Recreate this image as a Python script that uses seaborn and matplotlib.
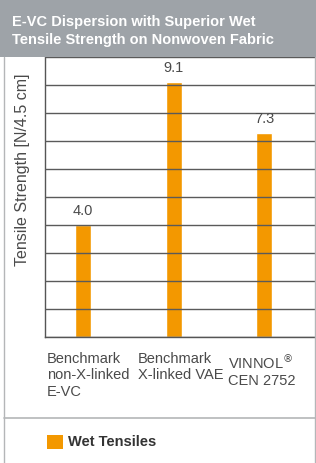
import matplotlib
matplotlib.use('Agg')
import matplotlib.pyplot as plt
import matplotlib.transforms as mtransforms
from matplotlib.patches import Rectangle, Patch
from matplotlib.lines import Line2D
import pandas as pd
import seaborn as sns

# datos
categorias = ['Benchmark\nnon-X-linked\nE-VC', 'Benchmark\nX-linked VAE', 'VINNOL$^{®}$\nCEN 2752']
valores = [4.0, 9.1, 7.3]
serie = 'Wet Tensiles'
titulo = 'E-VC Dispersion with Superior Wet\nTensile Strength on Nonwoven Fabric'
etiqueta_y = 'Tensile Strength [N/4.5 cm]'

naranja = '#f39800'
gris_banner = '#9ea3a8'
gris_texto = '#4a4a4a'
gris_borde = '#b4b6b8'

sns.set_style('white')
plt.rcParams['font.family'] = ['Liberation Sans', 'DejaVu Sans']

df = pd.DataFrame({'cat': [0, 1, 2], 'valor': valores, 'serie': serie})

W, H = 316, 463
fig = plt.figure(figsize=(W / 100, H / 100), dpi=100)
ax = fig.add_axes([45 / W, (H - 337) / H, (315 - 45) / W, (337 - 57) / H])

sns.barplot(data=df, x='cat', y='valor', hue='serie', palette=[naranja],
            width=0.177, ax=ax, legend=False, saturation=1)

ax.set_ylim(0, 10)
ax.set_xlim(-0.42, 2.56)
ax.set_yticks(range(0, 11))
ax.set_yticklabels([])
ax.tick_params(axis='both', length=0)
ax.grid(axis='y', color='#5a5a5a', linewidth=1)
ax.set_axisbelow(False)
for s in ['top', 'right']:
    ax.spines[s].set_visible(False)
for s in ['left', 'bottom']:
    ax.spines[s].set_color('#555555')
    ax.spines[s].set_linewidth(1)
ax.set_xlabel('')
ax.set_ylabel('')

# etiquetas de valor
for cont in ax.containers:
    ax.bar_label(cont, fmt='%.1f', padding=5, fontsize=10.5, color=gris_texto)

# etiquetas del eje x alineadas a la izquierda
ax.set_xticks([0, 1, 2])
ax.set_xticklabels(categorias, ha='left', va='top', fontsize=10.5,
                   color=gris_texto, linespacing=1.2)
ax.tick_params(axis='x', pad=11)
offset = mtransforms.ScaledTranslation(-36 / 100, 0, fig.dpi_scale_trans)
for lbl in ax.get_xticklabels():
    lbl.set_transform(lbl.get_transform() + offset)

# etiqueta del eje y
fig.text(23 / W, 1 - 170 / H, etiqueta_y, rotation=90, ha='center', va='center',
         fontsize=11.5, color=gris_texto)

# banner del titulo
fig.patches.append(Rectangle((0, 1 - 57 / H), 1, 57 / H, transform=fig.transFigure,
                             facecolor=gris_banner, edgecolor='none', zorder=0))
fig.text(12 / W, 1 - 31 / H, titulo, ha='left', va='center', color='white',
         fontsize=10.5, fontweight='bold', linespacing=1.45)

# bordes del recuadro
fig.lines.append(Line2D([3.5 / W, 3.5 / W], [0, 1 - 57 / H], transform=fig.transFigure,
                        color=gris_borde, linewidth=1))
fig.lines.append(Line2D([314.5 / W, 314.5 / W], [0, 1 - 57 / H], transform=fig.transFigure,
                        color=gris_borde, linewidth=1))
fig.lines.append(Line2D([3.5 / W, 314.5 / W], [1 - 418 / H, 1 - 418 / H],
                        transform=fig.transFigure, color=gris_borde, linewidth=1.2))

# leyenda
leg = fig.legend(handles=[Patch(facecolor=naranja, edgecolor='none', label=serie)],
                 loc='center left', bbox_to_anchor=(34 / W, 1 - 442 / H),
                 frameon=False, handlelength=1.1, handleheight=1.1, handletextpad=0.35,
                 prop={'weight': 'bold', 'size': 10.5})
for t in leg.get_texts():
    t.set_color('#333333')

fig.savefig('out.png', dpi=100)
